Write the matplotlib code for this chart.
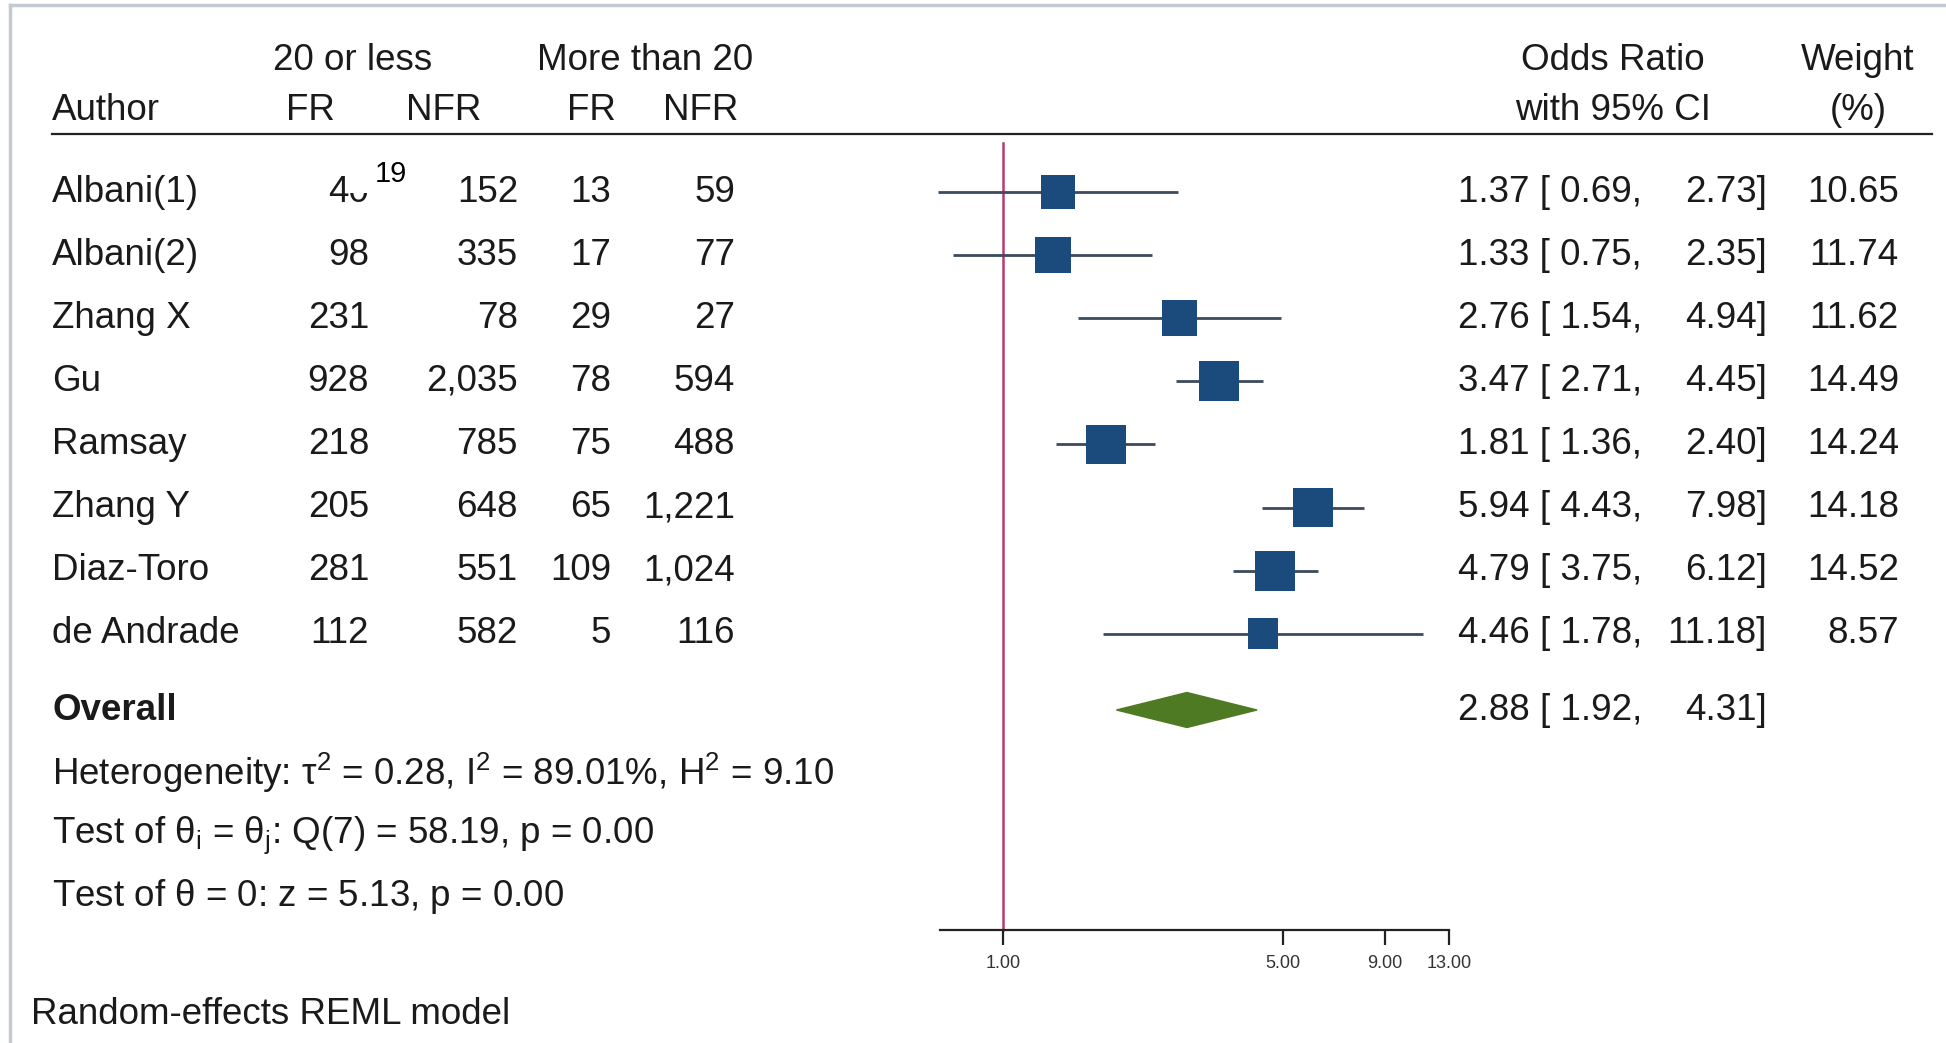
import matplotlib
matplotlib.use("Agg")
import matplotlib.pyplot as plt
import numpy as np
from matplotlib.lines import Line2D
from matplotlib.patches import Rectangle
from matplotlib.ticker import FixedLocator, NullLocator
from matplotlib.transforms import blended_transform_factory

# data
authors = ["Albani(1)", "Albani(2)", "Zhang X", "Gu", "Ramsay", "Zhang Y", "Diaz-Toro", "de Andrade"]
fr_le20 = [40, 98, 231, 928, 218, 205, 281, 112]
nfr_le20 = [152, 335, 78, 2035, 785, 648, 551, 582]
fr_gt20 = [13, 17, 29, 78, 75, 65, 109, 5]
nfr_gt20 = [59, 77, 27, 594, 488, 1221, 1024, 116]
odds_ratio = [1.37, 1.33, 2.76, 3.47, 1.81, 5.94, 4.79, 4.46]
ci_low = [0.69, 0.75, 1.54, 2.71, 1.36, 4.43, 3.75, 1.78]
ci_high = [2.73, 2.35, 4.94, 4.45, 2.40, 7.98, 6.12, 11.18]
weight = [10.65, 11.74, 11.62, 14.49, 14.24, 14.18, 14.52, 8.57]
overall_or = 2.88
overall_low = 1.92
overall_high = 4.31
tick_values = [1, 5, 9, 13]
stats_lines = [
    r"Heterogeneity: $\mathregular{\tau^2}$ = 0.28, $\mathregular{I^2}$ = 89.01%, $\mathregular{H^2}$ = 9.10",
    r"Test of $\mathregular{\theta_i}$ = $\mathregular{\theta_j}$: Q(7) = 58.19, p = 0.00",
    r"Test of $\mathregular{\theta}$ = 0: z = 5.13, p = 0.00",
]

plt.rcParams['font.family'] = ['Liberation Sans', 'DejaVu Sans']
plt.rcParams['mathtext.fontset'] = 'custom'
plt.rcParams['mathtext.rm'] = 'Liberation Sans'
plt.rcParams['mathtext.it'] = 'Liberation Sans'

W, H = 1946, 1043
fig = plt.figure(figsize=(W / 100, H / 100), dpi=100)
fig.patch.set_facecolor('white')

# row geometry in pixels
row0, step = 192, 63.1
def ypos(px):
    return (px - row0) / step

ax = fig.add_axes([940 / W, 1 - 930 / H, (1449 - 940) / W, (930 - 134) / H])
ax.set_xscale('log')
ax.set_xlim(0.696, 13.0)
ax.set_ylim(ypos(930), ypos(134))
ax.patch.set_visible(False)
for s in ['left', 'top', 'right']:
    ax.spines[s].set_visible(False)
ax.spines['bottom'].set_linewidth(1.6)
ax.spines['bottom'].set_color('#222222')
ax.set_yticks([])
ax.xaxis.set_major_locator(FixedLocator(tick_values))
ax.xaxis.set_minor_locator(NullLocator())
ax.set_xticklabels([f"{v:.2f}" for v in tick_values])
ax.tick_params(axis='x', length=11, width=1.6, color='#222222', labelsize=13, pad=7,
               labelcolor='#333333')

rows = np.arange(len(authors))
yo = ypos(710)

# null line
ax.plot([1, 1], [ypos(143), ypos(930)], color='#b83a6e', lw=1.8, clip_on=False, zorder=1)

# study CIs and weighted squares
ax.hlines(rows, ci_low, ci_high, color='#3b4a5c', lw=2.0, zorder=2, clip_on=False)
side_pt = 10.5 * np.sqrt(weight) * 0.72
ax.scatter(odds_ratio, rows, s=side_pt ** 2, marker='s', color='#1b4a7c', linewidths=0, zorder=3)

# overall diamond
h = 17.5 / step
ax.fill([overall_low, overall_or, overall_high, overall_or], [yo, yo - h, yo, yo + h],
        color='#4f7a24', zorder=3)

# text columns
tr = blended_transform_factory(fig.transFigure, ax.transData)
FS = 26.5
def put(xpx, y, s, ha='left', **kw):
    ax.text(xpx / W, y, s, transform=tr, ha=ha, va='center', fontsize=FS, color='#1a1a1a',
            clip_on=False, **kw)

put(353, ypos(60), "20 or less", ha='center')
put(645, ypos(60), "More than 20", ha='center')
put(52, ypos(110), "Author")
put(310, ypos(110), "FR", ha='center')
put(444, ypos(110), "NFR", ha='center')
put(591, ypos(110), "FR", ha='center')
put(701, ypos(110), "NFR", ha='center')
put(1613, ypos(60), "Odds Ratio", ha='center')
put(1613, ypos(110), "with 95% CI", ha='center')
put(1858, ypos(60), "Weight", ha='center')
put(1858, ypos(110), "(%)", ha='center')

ax.plot([52 / W, 1932 / W], [ypos(134)] * 2, transform=tr, color='#222222', lw=1.6, clip_on=False)

for i, a in enumerate(authors):
    put(52, i, a)
    put(369, i, f"{fr_le20[i]:,}", ha='right')
    put(518, i, f"{nfr_le20[i]:,}", ha='right')
    put(611, i, f"{fr_gt20[i]:,}", ha='right')
    put(735, i, f"{nfr_gt20[i]:,}", ha='right')
    put(1458, i, f"{odds_ratio[i]:.2f} [ {ci_low[i]:.2f},")
    put(1767, i, f"{ci_high[i]:.2f}]", ha='right')
    put(1899, i, f"{weight[i]:.2f}", ha='right')

put(52, yo, "Overall", fontweight='bold')
put(1458, yo, f"{overall_or:.2f} [ {overall_low:.2f},")
put(1767, yo, f"{overall_high:.2f}]", ha='right')

for k, line in enumerate(stats_lines):
    put(52, ypos(773 + 62 * k), line)
put(31, ypos(1015), "Random-effects REML model")

# stray "19" label pasted over the first cell; its white patch hides the top of the "0"
fig.add_artist(Rectangle((349 / W, 1 - 193 / H), 62 / W, 43 / H, transform=fig.transFigure,
                         facecolor='white', edgecolor='none', zorder=4))
fig.text(391 / W, 1 - 174 / H, "19", ha='center', va='center', fontsize=21,
         color='black', zorder=5)

# screenshot frame
fig.add_artist(Line2D([10 / W, 1], [1 - 5 / H, 1 - 5 / H], transform=fig.transFigure,
                      color='#c4c9d2', lw=2.5))
fig.add_artist(Line2D([10 / W, 10 / W], [0, 1 - 5 / H], transform=fig.transFigure,
                      color='#c4c9d2', lw=2.5))

fig.savefig('out.png', dpi=100, facecolor='white')
